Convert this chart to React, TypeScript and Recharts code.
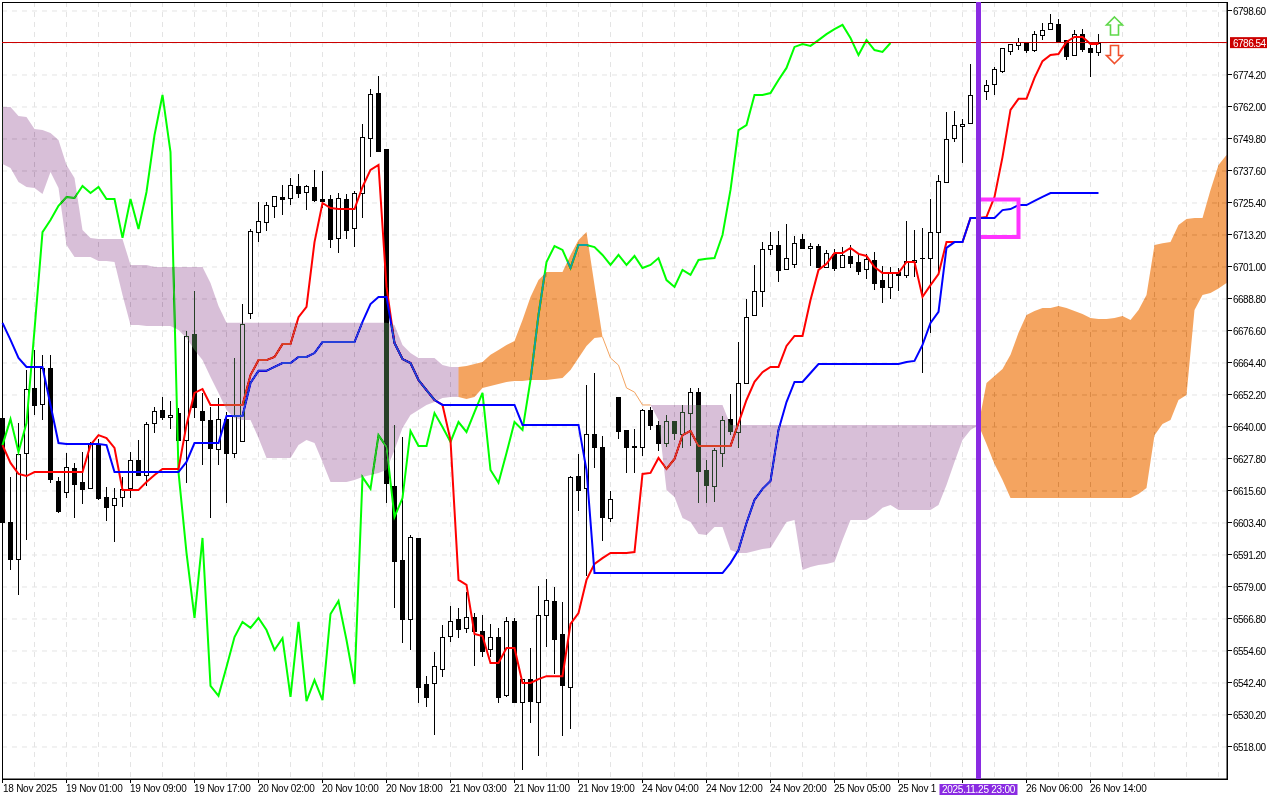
import React from "react";
import { ComposedChart, Bar, Line, Area, XAxis, YAxis, CartesianGrid, ReferenceLine, ReferenceArea, ReferenceDot } from "recharts";

// [open, high, low, close] per hourly bar
const ohlc: number[][] = [
[6643.4,6643.4,6603.8,6603.8],[6603.8,6620.9,6585.5,6589.7],[6589.7,6641.5,6576,6629.7],[6630.1,6661.7,6596.9,6654.5],[6654.9,6669.4,6644.6,6648.4],[6648.8,6667.5,6642.7,6662.5],[6662.5,6667.5,6618.7,6620.2],[6619.4,6620.9,6607.2,6608],
[6615.2,6630.1,6612.9,6624.8],[6624.4,6626.3,6605.3,6618.3],[6619,6630.5,6610.6,6616.4],[6616.7,6634.3,6616.7,6633.5],[6633.1,6635.4,6612.2,6612.9],[6613.3,6617.1,6604.2,6609.5],[6610.3,6616.7,6596.2,6612.9],[6613.3,6620.9,6609.5,6616.4],
[6616.7,6630.5,6612.9,6627.4],[6627.4,6635,6621.7,6621.7],[6621.7,6641.9,6617.5,6641.1],[6641.5,6647.6,6637.7,6646.1],[6646.5,6651.4,6642.7,6643.8],[6643.8,6649.9,6639.2,6644.6],[6645.3,6647.2,6635,6635],[6635,6676.6,6618.7,6674.7],
[6675.5,6691.9,6643.4,6647.6],[6646.1,6653,6625.5,6642.7],[6642.7,6647.6,6605.3,6632],[6631.6,6651.1,6625.5,6643],[6643,6645.7,6611,6630.1],[6630.1,6666.3,6628.2,6644.2],[6634.7,6686.9,6634.7,6679.3],[6683.5,6715.5,6681.2,6714.7],
[6714.3,6725.8,6710.5,6718.5],[6718.2,6725.8,6714.7,6724.6],[6724.3,6728.1,6719.7,6728.1],[6727.7,6732.3,6720.8,6726.9],[6727.3,6734.9,6724.6,6732.3],[6731.9,6736.5,6727.3,6729.2],[6729.6,6732.3,6722.7,6731.9],[6731.5,6738,6725.8,6726.5],
[6726.9,6737.6,6723.5,6726.2],[6726.9,6728.5,6708.3,6711.7],[6712.1,6729.2,6706.3,6727.3],[6726.9,6728.8,6711.7,6715.1],[6715.9,6730,6708.6,6729.2],[6729.2,6755.5,6719.7,6750.6],[6750.2,6768.9,6742.9,6767],[6767.3,6773.8,6745.2,6745.2],
[6746,6746,6611,6618.7],[6617.5,6640.8,6571,6588.9],[6589.3,6636.2,6557.7,6566.8],[6566.8,6598.8,6555,6598.1],[6597.7,6597.7,6534.8,6540.9],[6542,6545,6533.3,6537.1],[6542.4,6554.2,6522.6,6548.9],[6547.7,6564.5,6544.7,6559.9],
[6560.3,6571.8,6558,6566],[6566.8,6571,6559.5,6563],[6563.4,6577.1,6561.5,6567.6],[6567.6,6569.1,6548.9,6562.3],[6562.3,6568.3,6552.3,6554.6],[6555.4,6564.9,6552.3,6559.9],[6559.9,6563.4,6534.8,6537.1],[6537.8,6567.6,6537.1,6566],
[6566,6567.2,6534.8,6535.2],[6535.2,6543.9,6509.2,6543.9],[6543.9,6555.7,6527.2,6535.5],[6535.2,6579.4,6514.6,6568.3],[6568.3,6582,6556.1,6574],[6573.7,6579,6545.8,6559.2],[6561.1,6573.3,6522.2,6541.6],[6540.9,6621.3,6524.9,6620.9],
[6621.3,6629.7,6608,6616],[6616.7,6656,6583.2,6637.3],[6637.3,6660.6,6624.4,6632.4],[6632.4,6636.6,6596.5,6605.7],[6605.3,6615.6,6603.8,6612.5],[6651.4,6651.4,6635.4,6638.5],[6638.9,6638.9,6622.5,6632.4],[6632.8,6639.2,6622.5,6632.4],
[6632.4,6646.9,6628.9,6646.5],[6646.5,6647.6,6638.9,6640.8],[6640.8,6642.3,6630.9,6633.9],[6633.9,6644.6,6632.4,6642.3],[6642.3,6642.3,6635,6637.7],[6637.3,6648.4,6632,6645.7],[6645.3,6654.9,6632.8,6653.3],[6653.3,6654.9,6611,6623.2],
[6623.6,6627.4,6611,6617.9],[6617.5,6632,6611.4,6631.2],[6630.1,6644.2,6624.8,6642.7],[6643,6652.6,6636.9,6638.5],[6638.1,6672.4,6632,6656.8],[6656.8,6688.8,6656.4,6681.9],[6682.7,6701.8,6682.7,6691.9],[6691.9,6710.5,6685.8,6707.9],
[6707.9,6714.3,6705.6,6709.4],[6709.4,6714.7,6695.3,6699.9],[6700.2,6717.4,6700.2,6704.4],[6702.2,6712.8,6700.6,6710.1],[6711.7,6713.6,6707.9,6708.3],[6708.3,6710.1,6701.4,6709],[6709,6709.8,6701,6701],[6701,6707.5,6700.6,6706.3],
[6706,6707.9,6699.5,6700.6],[6701,6708.6,6700.6,6705.6],[6705.2,6709.4,6700.6,6702.5],[6702.9,6706.3,6698,6699.5],[6700.2,6706,6696.4,6704.1],[6703.7,6706.7,6692.2,6694.9],[6696,6701.4,6687.3,6693.4],[6693.4,6701,6688.8,6698.7],
[6699.1,6700.6,6691.9,6698],[6698,6718.5,6696.8,6703.3],[6702.9,6715.1,6697.2,6703.7],[6704.4,6715.9,6660.6,6704.3],[6704.4,6726.9,6675.9,6714.3],[6714.3,6736.1,6699.1,6733.8],[6733.4,6760.1,6733,6749.8],[6750.2,6760.5,6748.7,6755.1],
[6754.8,6757.4,6740.7,6755.5],[6755.9,6778.4,6755.9,6766.6],[6766.2,6770.4,6760.9,6768.1],[6768.1,6772.3,6764.7,6770.4],[6770.8,6777.3,6766.6,6776.5],[6775.7,6784.5,6775,6784.5],[6783.3,6786,6781.8,6786],[6785.6,6788.3,6783.7,6786.8],
[6786.8,6786.8,6782.6,6783.7],[6783.7,6791,6783,6789.8],[6789.5,6794,6787.5,6791.4],[6791.7,6797.5,6791.7,6794],[6793.6,6795.6,6786.8,6786.8],[6787.5,6787.5,6779.9,6781.4],[6781.8,6791.4,6781.4,6789.8],[6789.8,6791.7,6783,6784.1],
[6784.5,6786.4,6773.4,6783],[6783,6789.8,6781.4,6786.54],
];

const tenkan = [6633.1,6626.3,6622.1,6621.3,6622.8,6622.8,6622.8,6622.8,6622.8,6622.8,6622.8,6633.1,6636.9,6635.8,6632,6616,6616,6616,6619,6621.7,6624,6624,6624,6640.8,6653,6654.5,6648.4,6648.4,6648.4,6648.4,6648.4,6659.8,6665.5,6665.5,6666.7,6671.6,6671.6,6681.9,6685.8,6710.5,6725.4,6723.5,6723.1,6723.1,6723.1,6731.5,6738,6739.9,6693.4,6672,6665.9,6664.4,6657.9,6654.1,6650.3,6648.4,6635,6581.7,6579.8,6561.1,6560.3,6550,6550,6555.7,6555.7,6542.4,6542.4,6543.9,6545,6545,6545,6564.9,6569.1,6581.7,6587.8,6590,6592,6592,6592,6592.3,6622.1,6622.5,6628.2,6624,6627.8,6636.9,6638.5,6632.8,6632.8,6632.8,6632.8,6632.8,6641.5,6650.3,6657.2,6660.9,6662.9,6662.9,6670.9,6674.7,6674.7,6688.4,6699.9,6702.2,6706.3,6706.3,6708.3,6706,6705.2,6701,6698.7,6698.7,6698.7,6702.9,6702.9,6689.6,6694.1,6698.3,6710.5,6710.5,6710.5,6719.7,6719.7,6720.1,6727.7,6742.9,6760.9,6765.1,6765.1,6773.1,6779.5,6781.8,6782.2,6786.8,6788.7,6788.7,6786,6786];

const kijun = [6679.7,6673.2,6666.3,6662.9,6662.9,6662.9,6648.4,6633.9,6633.5,6633.5,6633.5,6633.5,6633.5,6633.1,6622.8,6622.8,6622.8,6622.8,6622.8,6622.8,6622.8,6622.8,6622.8,6626.7,6633.9,6633.9,6633.9,6633.9,6644.2,6644.2,6644.2,6656.8,6661.4,6661.4,6662.9,6664.4,6664.4,6666.7,6666.7,6668.2,6672.4,6672.4,6672.4,6672.4,6672.4,6680.1,6686.9,6689.6,6689.6,6672,6665.9,6664.4,6657.9,6654.1,6650.3,6648.4,6648.4,6648.4,6648.4,6648.4,6648.4,6648.4,6648.4,6648.4,6648.4,6640.8,6640.8,6640.8,6640.8,6640.8,6640.8,6640.8,6640.8,6623.6,6584.3,6584.3,6584.3,6584.3,6584.3,6584.3,6584.3,6584.3,6584.3,6584.3,6584.3,6584.3,6584.3,6584.3,6584.3,6584.3,6584.3,6588.1,6593.1,6603.4,6612.2,6616.4,6619.4,6638.9,6649.5,6657.2,6657.2,6660.6,6664,6664,6664,6664,6664,6664,6664,6664,6664,6664,6664,6664.8,6665.2,6671.3,6679.7,6683.9,6708.3,6710.5,6710.5,6719.7,6719.7,6719.7,6719.7,6722.7,6723.1,6724.6,6724.6,6726.2,6727.7,6729.2,6729.2,6729.2,6729.2,6729.2,6729.2,6729.2];

const chikou = [6633.1,6643,6630.5,6641.5,6677,6714.3,6718.9,6724.3,6727.7,6727.3,6731.9,6729.2,6731.5,6726.9,6726.9,6712.1,6726.9,6715.5,6729.6,6751.3,6766.6,6744.8,6622.8,6592,6567.2,6597.7,6541.3,6537.5,6548.5,6559.9,6565.7,6563.4,6567.2,6562.6,6555,6559.5,6537.1,6565.7,6535.5,6543.5,6535.9,6568.7,6573.7,6558.8,6542,6620.9,6616.4,6636.9,6632.4,6605.7,6612.9,6638.5,6632.8,6632.8,6645.3,6640,6634.3,6641.9,6638.1,6645.7,6653,6623.6,6618.7,6630.1,6641.9,6638.9,6657.9,6682.7,6702.9,6709,6707.5,6700.6,6709.4,6709.4,6708.6,6705.6,6701.8,6705.6,6701.8,6705.2,6700.6,6701.8,6704.4,6696,6693.4,6699.9,6698,6703.7,6704.1,6704.4,6713.2,6730.4,6753.2,6755.1,6766.6,6766.6,6767.3,6772.3,6776.9,6784.9,6786,6785.3,6787.5,6789.8,6791.7,6793.3,6788.3,6781.8,6787.5,6783.7,6783,6786.4];

// Cloud segments: first bar index + upper and lower bound of each bar
const lilac1Start = 0;
const lilac1Top = [6762,6762,6758.6,6758.2,6753.6,6753.2,6752.1,6749.4,6739.9,6734.9,6715.1,6712.1,6711.7,6711.7,6711.7,6711.7,6701.8,6701.8,6701.8,6701,6701,6701,6701,6701,6701,6701,6694.9,6686.1,6679.7,6679.7,6679.7,6679.7,6679.7,6679.7,6679.7,6679.7,6679.7,6679.7,6679.7,6679.7,6679.7,6679.7,6679.7,6679.7,6679.7,6679.7,6679.7,6679.7,6679.7,6678.9,6671.3,6668.2,6666.3,6666.3,6666.3,6663.6,6662.9,6662.9];
const lilac1Bottom = [6740.3,6738.7,6733.4,6731.5,6731.1,6728.8,6737.2,6731.1,6709.4,6704.8,6704.8,6704.8,6703.3,6703.3,6702.9,6690.3,6678.9,6678.9,6678.5,6678.5,6678.5,6678.5,6677,6673.9,6669.4,6665.5,6659.1,6653,6646.5,6643.4,6642.7,6642.7,6635.8,6628.2,6628.2,6628.2,6628.2,6633.1,6635,6633.9,6626.7,6619,6619,6619,6619.8,6620.9,6621.7,6622.5,6623.6,6631.2,6639.6,6644.6,6646.5,6648.4,6649.5,6651.1,6651.4,6651.4];

const orange1Start = 57;
const orange1Top = [6662.9,6663.3,6664,6664.8,6667.5,6669.4,6671.3,6672.8,6680.8,6689.6,6696,6699.1,6699.1,6699.1,6705.6,6711.3,6714.3,6694.1,6674.3];
const orange1Bottom = [6651.4,6650.7,6651.4,6654.9,6655.6,6656.4,6657.2,6657.5,6657.5,6657.9,6657.9,6657.9,6658.3,6658.7,6661.7,6666.3,6670.9,6673.9,6674.3];

const thinStart = 75;
const thinSpan = [6674.3,6666.3,6663.6,6654.9,6653.3,6648.4,6648.4];

const lilac2Start = 81;
const lilac2Top = [6648.4,6648.4,6648.4,6648.4,6648.4,6648.4,6648.4,6648.4,6648.4,6648.4,6640.8,6640.8,6640.8,6640.8,6640.8,6640.8,6640.8,6640.8,6640.8,6640.8,6640.8,6640.8,6640.8,6640.8,6640.8,6640.8,6640.8,6640.8,6640.8,6640.8,6640.8,6640.8,6640.8,6640.8,6640.8,6640.8,6640.8,6640.8,6640.8,6640.8,6640.8,6640.8];
const lilac2Bottom = [6648.4,6642.7,6616,6613.3,6605.3,6603.8,6599.2,6598.8,6601.9,6601.9,6593.1,6592,6592,6592.7,6593.5,6593.9,6598.8,6603.8,6604.5,6585.5,6586.6,6587.4,6587.8,6588.5,6596.9,6604.5,6604.5,6604.5,6606.5,6609.2,6610.3,6608.4,6608.4,6608.4,6608.4,6608.4,6610.3,6617.9,6626.7,6635,6638.9,6640.8];

const orange2Start = 122;
const orange2Top = [6640.8,6656.8,6659.4,6662.1,6667.5,6675.9,6682.7,6684.2,6685.4,6685.4,6686.1,6685.4,6684.2,6683.1,6681.6,6681.2,6681.2,6681.6,6682.3,6680.8,6684.6,6690.3,6709.4,6710.1,6710.5,6717,6719.3,6719.7,6719.7,6730.4,6739.9,6743.7];
const orange2Bottom = [6640.8,6633.5,6625.9,6619.8,6612.9,6612.9,6612.9,6612.9,6612.9,6612.9,6612.9,6612.9,6612.9,6612.9,6612.9,6612.9,6612.9,6612.9,6612.9,6612.9,6614.5,6616.7,6636.9,6641.1,6642.7,6650.3,6652.2,6684.6,6690.3,6691.1,6692.8,6694.9];

const priceTicks = [6798.6,6774.2,6762,6749.8,6737.6,6725.4,6713.2,6701,6688.8,6676.6,6664.4,6652.2,6640,6627.8,6615.6,6603.4,6591.2,6579,6566.8,6554.6,6542.4,6530.2,6518];
const gridPrices = [6786.4, ...priceTicks];
// The 25 Nov labels are cut off by the crosshair's time box in the picture: only these parts show.
const timeLabels = ["18 Nov 2025","19 Nov 01:00","19 Nov 09:00","19 Nov 17:00","20 Nov 02:00","20 Nov 10:00","20 Nov 18:00","21 Nov 03:00","21 Nov 11:00","21 Nov 19:00","24 Nov 04:00","24 Nov 12:00","24 Nov 20:00","25 Nov 05:00","25 Nov 1","","26 Nov 06:00","26 Nov 14:00"];
const barsPerLabel = 8;
const barsPerGrid = 4;
const barCount = 154;
const currentPrice = 6786.54;
const markerBar = 122;
const markerLabel = "2025.11.25 23:00";
const boxEndBar = 127;
const boxLow = 6712.4;
const boxHigh = 6726.7;
const arrowBar = 139;
const arrowUpPrice = 6792.9;
const arrowDownPrice = 6782;

const FONT = '"Liberation Sans", Arial, sans-serif';
const W = 1280, H = 800;
const PLOT_RIGHT = 1227;
const LILAC_DIFF = "#274027"; // difference against white gives thistle; against black candles dark green
const ORANGE_DIFF = "#0B5B9F"; // difference against white gives sandy brown

const slot = (arr: number[], start: number, i: number) => (i >= start && i - start < arr.length ? arr[i - start] : null);
const band = (top: number[], bottom: number[], start: number, i: number) => {
  const t = slot(top, start, i), b = slot(bottom, start, i);
  return t == null || b == null ? null : [b, t];
};

const rows = Array.from({ length: barCount }, (_, i) => {
  const c = ohlc[i];
  return {
    i,
    open: c ? c[0] : null,
    high: c ? c[1] : null,
    low: c ? c[2] : null,
    close: c ? c[3] : null,
    range: c ? [c[2], c[1]] : null,
    tenkan: slot(tenkan, 0, i),
    kijun: slot(kijun, 0, i),
    chikou: slot(chikou, 0, i),
    thin: slot(thinSpan, thinStart, i),
    lilac1: band(lilac1Top, lilac1Bottom, lilac1Start, i),
    lilac2: band(lilac2Top, lilac2Bottom, lilac2Start, i),
    orange1: band(orange1Top, orange1Bottom, orange1Start, i),
    orange2: band(orange2Top, orange2Bottom, orange2Start, i),
  };
});

const Candle = (p: any) => {
  const d = p.payload;
  if (!d || d.open == null || !Number.isFinite(p.y) || !Number.isFinite(p.height)) return null;
  const perUnit = p.height / (d.high - d.low);
  const py = (v: number) => p.y + (d.high - v) * perUnit;
  const cx = Math.floor(p.x + p.width / 2) + 0.5;
  const a = Math.round(py(Math.max(d.open, d.close)));
  const b = Math.round(py(Math.min(d.open, d.close)));
  const up = d.close >= d.open;
  return (
    <g shapeRendering="crispEdges">
      <line x1={cx} x2={cx} y1={p.y} y2={p.y + p.height} stroke="#000" strokeWidth={1} />
      {b - a < 1 ? (
        <line x1={cx - 2.5} x2={cx + 2.5} y1={a + 0.5} y2={a + 0.5} stroke="#000" strokeWidth={1} />
      ) : (
        <rect x={cx - 2} y={a + 0.5} width={4} height={b - a} fill={up ? "#fff" : "#000"} stroke="#000" strokeWidth={1} />
      )}
    </g>
  );
};

const TimeTick = (p: any) => {
  const idx = Math.round(p.payload.value / barsPerLabel);
  const label = timeLabels[idx];
  return (
    <g>
      <line x1={p.x} x2={p.x} y1={779} y2={783} stroke="#000" shapeRendering="crispEdges" />
      {label ? (
        <text x={Math.max(3, p.x - 0.5)} y={792} fontFamily={FONT} fontSize={10} letterSpacing={-0.25} fill="#000" textAnchor="start">{label}</text>
      ) : null}
    </g>
  );
};

const PriceTick = (p: any) => (
  <g>
    <line x1={1228} x2={1232} y1={p.y} y2={p.y} stroke="#000" shapeRendering="crispEdges" />
    <text x={1233} y={p.y + 4} fontFamily={FONT} fontSize={10} letterSpacing={-0.5} fill="#000" textAnchor="start">{Number(p.payload.value).toFixed(2)}</text>
  </g>
);

const PriceLine = (p: any) => (
  <g>
    <line x1={p.x1} x2={p.x2} y1={p.y1} y2={p.y2} stroke="#CC0000" strokeWidth={1} shapeRendering="crispEdges" />
    <rect x={PLOT_RIGHT + 3} y={p.y1 - 5.5} width={37} height={11} fill="#CC0000" />
    <text x={PLOT_RIGHT + 6} y={p.y1 + 4} fontFamily={FONT} fontSize={10} letterSpacing={-0.5} fill="#fff">{currentPrice.toFixed(2)}</text>
  </g>
);

const MarkerLine = (p: any) => (
  <g>
    <line x1={p.x1} x2={p.x2} y1={p.y1} y2={p.y2} stroke="#8A2BE2" strokeWidth={5} shapeRendering="crispEdges" />
    <rect x={p.x1 - 39} y={784} width={78} height={11} fill="#8A2BE2" />
    <text x={p.x1} y={793} textAnchor="middle" fontFamily={FONT} fontSize={10} letterSpacing={-0.25} fill="#fff">{markerLabel}</text>
  </g>
);

const ArrowUp = (p: any) => {
  const { cx: x, cy: y } = p;
  const pts = [[0,-9],[8,-1],[4,-1],[4,9],[-4,9],[-4,-1],[-8,-1]].map(([a,b]) => `${x+a},${y+b}`).join(" ");
  return <polygon points={pts} fill="#fff" stroke="#5FD84A" strokeWidth={1.6} />;
};
const ArrowDown = (p: any) => {
  const { cx: x, cy: y } = p;
  const pts = [[0,9],[8,1],[4,1],[4,-9],[-4,-9],[-4,1],[-8,1]].map(([a,b]) => `${x+a},${y+b}`).join(" ");
  return <polygon points={pts} fill="#fff" stroke="#F0502D" strokeWidth={1.6} />;
};

const blend = { mixBlendMode: "difference" as const };
const gridX = Array.from({ length: 39 }, (_, k) => k * barsPerGrid);
const axisX = timeLabels.map((_, k) => k * barsPerLabel);

export default function App() {
  return (
    <div style={{ position: "absolute", left: 0, top: 0, width: W, height: H, background: "#fff" }}>
      <ComposedChart width={W} height={H} data={rows} margin={{ top: 2, left: 2, right: 0, bottom: 0 }}>
        <CartesianGrid fill="#fff" stroke="#E4E4E4" strokeDasharray="5 5" verticalValues={gridX} horizontalValues={gridPrices} />
        <XAxis dataKey="i" type="number" domain={[-0.0625, 153.0625]} ticks={axisX} height={21} interval={0} tickLine={false} axisLine={{ stroke: "#000" }} tick={<TimeTick />} allowDecimals={false} />
        <YAxis type="number" orientation="right" width={53} domain={[6505.8, 6802.03]} ticks={priceTicks} interval={0} tickLine={false} axisLine={{ stroke: "#000" }} tick={<PriceTick />} />
        <Bar dataKey="range" barSize={5} isAnimationActive={false} shape={<Candle />} zIndex={300} />
        <Line dataKey="chikou" type="linear" stroke="#00FF00" strokeWidth={2} dot={false} isAnimationActive={false} zIndex={400} />
        <Line dataKey="kijun" type="linear" stroke="#0000FF" strokeWidth={2} dot={false} isAnimationActive={false} zIndex={401} />
        <Line dataKey="tenkan" type="linear" stroke="#FF0000" strokeWidth={2} dot={false} isAnimationActive={false} zIndex={400} />
        <Line dataKey="thin" type="linear" stroke="#F4A460" strokeWidth={1} dot={false} isAnimationActive={false} zIndex={400} />
        <Area dataKey="lilac1" type="linear" stroke="none" fill={LILAC_DIFF} fillOpacity={1} style={blend} isAnimationActive={false} zIndex={500} />
        <Area dataKey="lilac2" type="linear" stroke="none" fill={LILAC_DIFF} fillOpacity={1} style={blend} isAnimationActive={false} zIndex={500} />
        <Area dataKey="orange1" type="linear" stroke="none" fill={ORANGE_DIFF} fillOpacity={1} style={blend} isAnimationActive={false} zIndex={500} />
        <Area dataKey="orange2" type="linear" stroke="none" fill={ORANGE_DIFF} fillOpacity={1} style={blend} isAnimationActive={false} zIndex={500} />
        <ReferenceArea x1={markerBar} x2={boxEndBar} y1={boxLow} y2={boxHigh} fill="none" fillOpacity={0} stroke="#FF33FF" strokeWidth={4} zIndex={600} />
        <ReferenceLine y={currentPrice} shape={<PriceLine />} zIndex={650} />
        <ReferenceLine x={markerBar} shape={<MarkerLine />} zIndex={700} />
        <ReferenceDot x={arrowBar} y={arrowUpPrice} r={9} shape={<ArrowUp />} zIndex={700} />
        <ReferenceDot x={arrowBar} y={arrowDownPrice} r={9} shape={<ArrowDown />} zIndex={700} />
        <rect x={2.5} y={2.5} width={1225} height={777} fill="none" stroke="#000" shapeRendering="crispEdges" />
      </ComposedChart>
    </div>
  );
}
